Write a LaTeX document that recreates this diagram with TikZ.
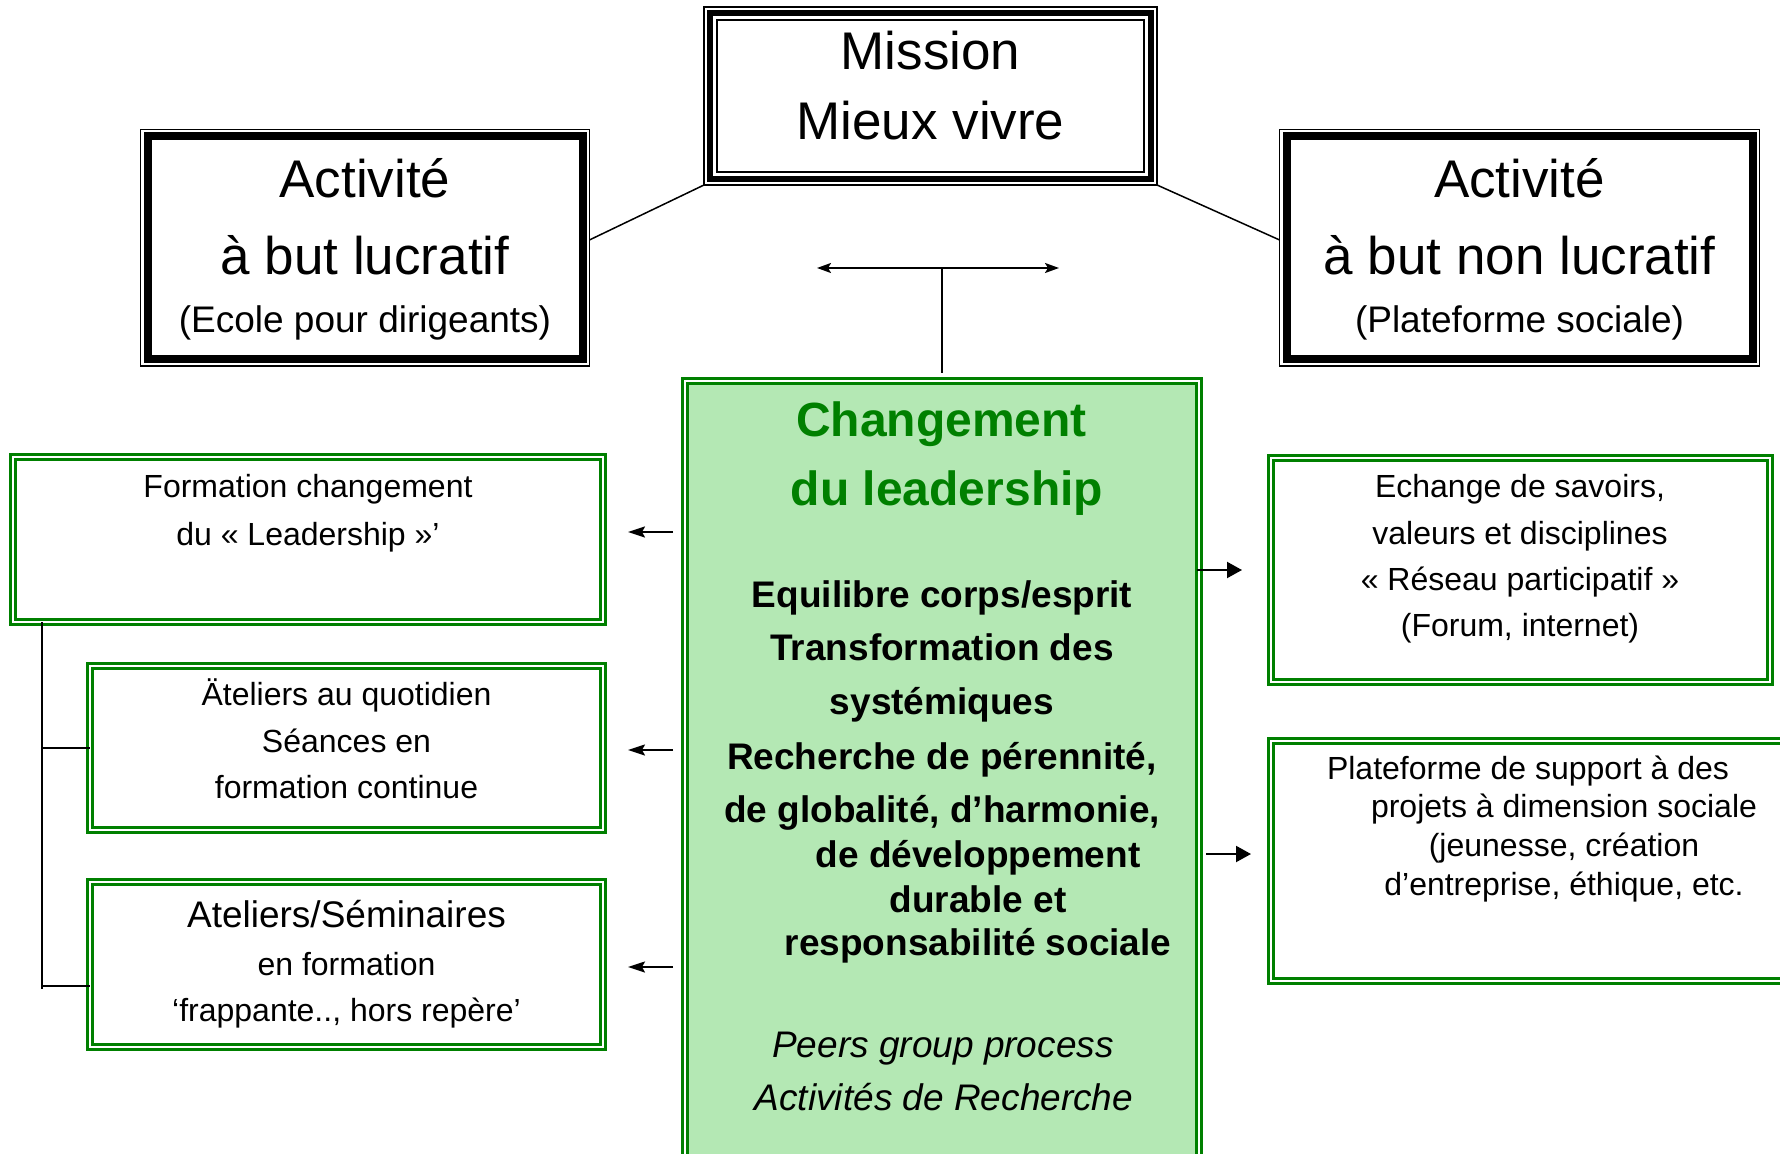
\documentclass[tikz,border=0pt]{standalone}
\usepackage{fontspec}
\setmainfont{Liberation Sans}
\usetikzlibrary{arrows.meta,calc}
\definecolor{wgreen}{RGB}{0,128,0}
\definecolor{lgreen}{RGB}{180,232,180}
\newcommand\insetbox[3]{\draw[#3] ($(#1.north west)+(#2,#2)$) rectangle ($(#1.south east)-(#2,#2)$);}
\tikzset{
  every node/.style={outer sep=0pt, inner sep=0pt},
  blackbox/.style={rectangle, draw=black, line width=0.75pt},
  missionbox/.style={rectangle, draw=black, line width=1pt},
  greenbox/.style={rectangle, draw=wgreen, line width=1.5pt, double=white, double distance=1pt},
  centerbox/.style={rectangle, draw=wgreen, fill=lgreen, line width=1.5pt, double=white, double distance=1pt},
  tbig/.style={anchor=base, font=\fontsize{26.5}{30}\selectfont},
  tmid/.style={anchor=base, font=\fontsize{18.5}{22}\selectfont},
  tsmall/.style={anchor=base, font=\fontsize{16}{19}\selectfont},
  ttitle/.style={anchor=base, text=wgreen, font=\fontsize{24}{28}\selectfont\bfseries},
  tbold/.style={anchor=base, font=\fontsize{18.5}{22}\selectfont\bfseries},
  tital/.style={anchor=base, font=\fontsize{18.5}{22}\selectfont\itshape},
  link/.style={draw=black, line width=0.75pt},
  bracket/.style={draw=black, line width=1pt},
  larr/.style={draw=black, line width=1pt, -{Stealth[length=8.5pt,width=5.5pt,inset=1.5pt]}},
  rarr/.style={draw=black, line width=1pt, -{Triangle[length=7.5pt,width=8pt]}},
  darr/.style={draw=black, line width=1pt, {Stealth[length=7pt,width=5pt,inset=1.5pt]}-{Stealth[length=7pt,width=5pt,inset=1.5pt]}}
}
\begin{document}
\begin{tikzpicture}[x=0.5pt,y=-0.5pt]
\useasboundingbox (0,0) rectangle (1780,1154);
\clip (0,0) rectangle (1780,1154);

% ---- top boxes
\node[missionbox, minimum width=226.5pt, minimum height=89pt] (mis) at (930.5,96) {};
\insetbox{mis}{6}{line width=3pt}
\insetbox{mis}{13}{line width=1pt}
\node[tbig] (mis1) at (930.5,70) {Mission};
\node[tbig] (mis2) at (930.5,140) {Mieux vivre};

\node[blackbox, minimum width=224.5pt, minimum height=118.25pt] (lb) at (365,247.75) {};
\insetbox{lb}{7}{line width=4pt}
\node[tbig] (lb1) at (365,198) {Activité};
\node[tbig] (lb2) at (365,275) {à but lucratif};
\node[tmid] (lb3) at (365,333) {(Ecole pour dirigeants)};

\node[blackbox, minimum width=240pt, minimum height=118.25pt] (rb) at (1519.5,247.75) {};
\insetbox{rb}{7}{line width=4pt}
\node[tbig] (rb1) at (1519.5,198) {Activité};
\node[tbig] (rb2) at (1519.5,275) {à but non lucratif};
\node[tmid] (rb3) at (1519.5,333) {(Plateforme sociale)};

\draw[link] ([yshift=3.9pt]lb.east) -- (mis.south west);
\draw[link] (mis.south east) -- ([yshift=3.9pt]rb.west);

% ---- central box
\node[centerbox, minimum width=257pt, minimum height=397pt] (cb) at (942,778) {};
\node[ttitle] (cb1) at (941.5,437) {Changement};
\node[ttitle] (cb2) at (947,505) {du leadership};
\node[tbold] (cb3) at (942,607) {Equilibre corps/esprit};
\node[tbold] (cb4) at (942,660) {Transformation des};
\node[tbold] (cb5) at (942,714) {systémiques};
\node[tbold] (cb6) at (942,769) {Recherche de pérennité,};
\node[tbold] (cb7) at (942,822) {de globalité, d’harmonie,};
\node[tbold] (cb8) at (978,867) {de développement};
\node[tbold] (cb9) at (978,912) {durable et};
\node[tbold] (cb10) at (978,955) {responsabilité sociale};
\node[tital] (cb11) at (943,1057) {Peers group process};
\node[tital] (cb12) at (944,1110) {Activités de Recherche};

% ---- T arrow
\coordinate (tj) at (942,268);
\coordinate (tl) at (817,268);
\coordinate (tr) at (1059,268);
\draw[bracket, shorten <=4pt] (cb.north) -- (tj);
\draw[darr] (tl) -- (tr);

% ---- left boxes
\node[greenbox, minimum width=295pt, minimum height=82.5pt] (L1) at (308,539.5) {};
\node[tsmall] (L1a) at (308,497) {Formation changement};
\node[tsmall] (L1b) at (308,545) {du « Leadership »’};

\node[greenbox, minimum width=256.5pt, minimum height=82pt] (L2) at (346.5,748) {};
\node[tsmall] (L2a) at (346.5,705) {Äteliers au quotidien};
\node[tsmall] (L2b) at (346.5,752) {Séances en};
\node[tsmall] (L2c) at (346.5,798) {formation continue};

\node[greenbox, minimum width=256.5pt, minimum height=82.5pt] (L3) at (346.5,964.5) {};
\node[tmid] (L3a) at (346.5,927) {Ateliers/Séminaires};
\node[tsmall] (L3b) at (346.5,975) {en formation};
\node[tsmall] (L3c) at (346.5,1021) {‘frappante.., hors repère’};

% bracket
\coordinate (bk) at (42,989);
\coordinate (bk3) at (42,986);
\draw[bracket] (bk |- L1.south) -- (bk);
\draw[bracket] (bk |- L2.west) -- (L2.west);
\draw[bracket] (bk3) -- (bk3 -| L3.west);

% left arrows
\coordinate (ya) at (0,532);
\coordinate (yb) at (0,750);
\coordinate (yc) at (0,967);
\draw[larr, shorten <=6pt, shorten >=12.5pt] (cb.west |- ya) -- (L1.east |- ya);
\draw[larr, shorten <=6pt, shorten >=12.5pt] (cb.west |- yb) -- (L2.east |- yb);
\draw[larr, shorten <=6pt, shorten >=12.5pt] (cb.west |- yc) -- (L3.east |- yc);

% ---- right boxes
\node[greenbox, minimum width=249.5pt, minimum height=112pt] (R1) at (1520.5,570) {};
\node[tsmall] (R1a) at (1520,497) {Echange de savoirs,};
\node[tsmall] (R1b) at (1520,544) {valeurs et disciplines};
\node[tsmall] (R1c) at (1520,590) {« Réseau participatif »};
\node[tsmall] (R1d) at (1520,636) {(Forum, internet)};

\node[greenbox, minimum width=264.5pt, minimum height=120pt] (R2) at (1535.5,861) {};
\node[tsmall] (R2a) at (1528,779) {Plateforme de support à des};
\node[tsmall] (R2b) at (1564,817) {projets à dimension sociale};
\node[tsmall] (R2c) at (1564,856) {(jeunesse, création};
\node[tsmall] (R2d) at (1564,895) {d’entreprise, éthique, etc.};

% right arrows
\coordinate (yd) at (0,570);
\coordinate (ye) at (0,854);
\draw[rarr, shorten <=-1pt, shorten >=14.5pt] (cb.east |- yd) -- (R1.west |- yd);
\draw[rarr, shorten <=3.5pt, shorten >=10pt] (cb.east |- ye) -- (R2.west |- ye);
\end{tikzpicture}
\end{document}
